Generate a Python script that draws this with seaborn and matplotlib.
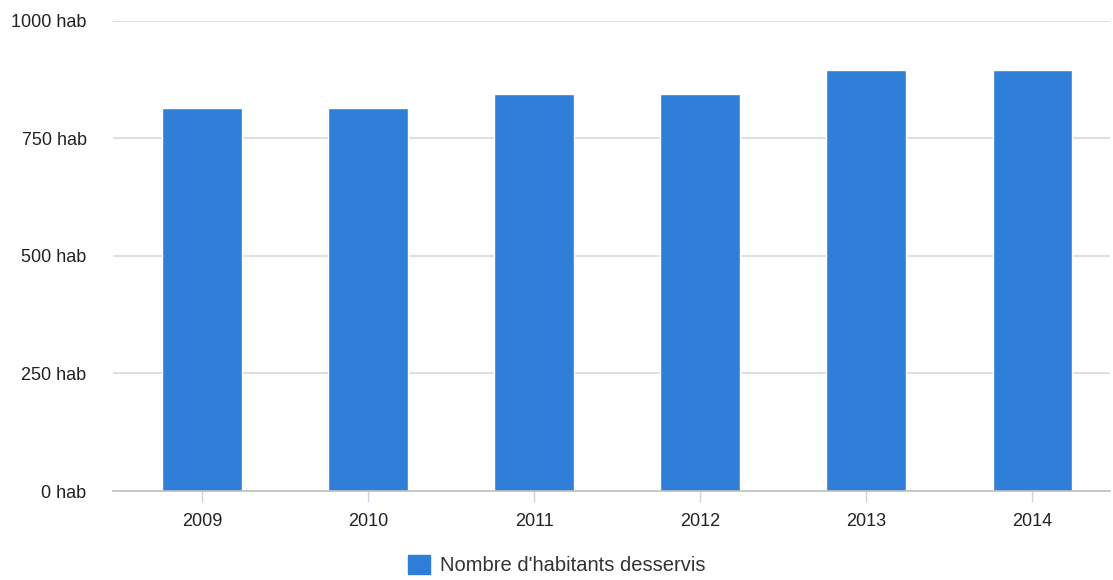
import matplotlib

matplotlib.use('Agg')
import matplotlib.pyplot as plt
import matplotlib.patches as mpatches
import seaborn as sns
import pandas as pd

# ── données ──────────────────────────────────────────────
years = ['2009', '2010', '2011', '2012', '2013', '2014']
habitants = [815, 815, 845, 845, 895, 895]
y_ticks = [0, 250, 500, 750, 1000]
serie = "Nombre d'habitants desservis"

BLUE = '#2F7ED8'

sns.set_theme(style='white')
plt.rcParams['font.family'] = ['Liberation Sans', 'DejaVu Sans']

df = pd.DataFrame({'annee': years, 'hab': habitants})

fig = plt.figure(figsize=(11.13, 5.8), dpi=100)
ax = fig.add_axes([0.1015, 0.1534, 0.8955, 0.811])

sns.barplot(data=df, x='annee', y='hab', color=BLUE, saturation=1, width=0.48, ax=ax)

ax.set_ylim(0, 1000)
ax.set_yticks(y_ticks)
ax.set_yticklabels([f'{v} hab' for v in y_ticks])
ax.set_xlim(-0.535, 5.465)
for v in y_ticks[1:]:
    ax.axhline(v, color='#d9d9d9', lw=1.2, zorder=0)

ax.set_xlabel('')
ax.set_ylabel('')
for s in ['top', 'right', 'left']:
    ax.spines[s].set_visible(False)
ax.spines['bottom'].set_color('#bdbdbd')
ax.spines['bottom'].set_linewidth(1.2)

ax.tick_params(axis='y', length=0, pad=19, labelsize=13, labelcolor='#222222')
ax.tick_params(axis='x', length=8, width=1, color='#c6d6e6', pad=8,
               labelsize=13, labelcolor='#222222', bottom=True)

handle = mpatches.Patch(color=BLUE, label=serie)
fig.legend(handles=[handle], loc='center', bbox_to_anchor=(0.5, 0.026),
           frameon=False, fontsize=14.5, handlelength=1.1, handleheight=1.1,
           handletextpad=0.5, labelcolor='#333333', borderpad=0)

plt.savefig('out.png', dpi=100)
